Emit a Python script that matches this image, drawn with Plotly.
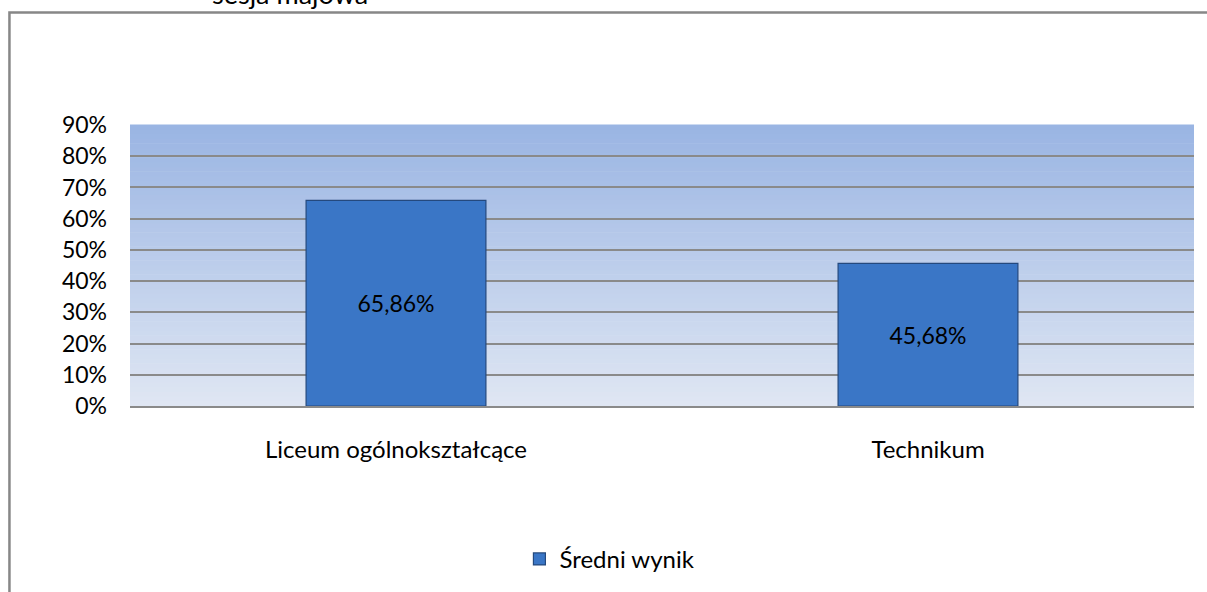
import plotly.graph_objects as go

categories = ["Liceum ogólnokształcące", "Technikum"]
values = [0.6586, 0.4568]
series_name = "Średni wynik"
subtitle = "sesja majowa"
tick_values = [0, 0.1, 0.2, 0.3, 0.4, 0.5, 0.6, 0.7, 0.8, 0.9]

FONT = "Lato, 'Open Sans', sans-serif"

fig = go.Figure()
fig.add_trace(go.Bar(
    x=categories,
    y=values,
    name=series_name,
    width=0.338,
    marker=dict(color="#3a76c6", line=dict(color="#24497e", width=1.2)),
    text=values,
    texttemplate="%{y:.2%}",
    textposition="inside",
    insidetextanchor="middle",
    textfont=dict(color="#000000", size=23, family=FONT),
    showlegend=True,
))

# vertical gradient behind the plotting area
shapes = []
n = 60
top = (154, 181, 227)
bot = (223, 230, 243)
for i in range(n):
    t = i / (n - 1)
    c = tuple(round(bot[k] + (top[k] - bot[k]) * t) for k in range(3))
    shapes.append(dict(type="rect", xref="paper", yref="paper",
                       x0=0, x1=1, y0=i / n, y1=(i + 1) / n + 0.002,
                       fillcolor="rgb(%d,%d,%d)" % c, line=dict(width=0),
                       layer="below"))
# chart frame
shapes.append(dict(type="rect", xref="paper", yref="paper",
                   x0=-0.1133, x1=1.02, y0=-0.68, y1=1.4007,
                   line=dict(color="#878787", width=2.5), fillcolor="rgba(0,0,0,0)",
                   layer="above"))

fig.update_layout(
    width=1207, height=592,
    margin=dict(l=130, r=13, t=125, b=185),
    paper_bgcolor="white",
    plot_bgcolor="rgba(0,0,0,0)",
    separators=", ",
    font=dict(family=FONT, size=18, color="#000000"),
    shapes=shapes,
    bargap=0.66,
    legend=dict(orientation="h", x=0.366, xanchor="left", y=-0.54, yanchor="middle",
                font=dict(size=24, family=FONT), bgcolor="rgba(0,0,0,0)",
                itemwidth=30),
    annotations=[dict(text=subtitle, xref="paper", yref="paper",
                      x=(290 - 130) / 1064, y=(407 + 7) / 282,
                      xanchor="center", yanchor="middle", showarrow=False,
                      font=dict(size=27, family=FONT, color="#000000"))],
)
fig.update_xaxes(showgrid=False, ticks="", showline=True, linecolor="#8a8a8a",
                 linewidth=2, ticklabelstandoff=21,
                 tickfont=dict(size=24, family=FONT))
fig.update_yaxes(range=[0, 0.9], tickvals=tick_values, tickformat=".0%",
                 showgrid=True, gridcolor="#8a8a8a", gridwidth=2,
                 zeroline=False, showline=False, ticks="",
                 ticklabelstandoff=22, tickfont=dict(size=23, family=FONT))

fig.write_html("out.html")
